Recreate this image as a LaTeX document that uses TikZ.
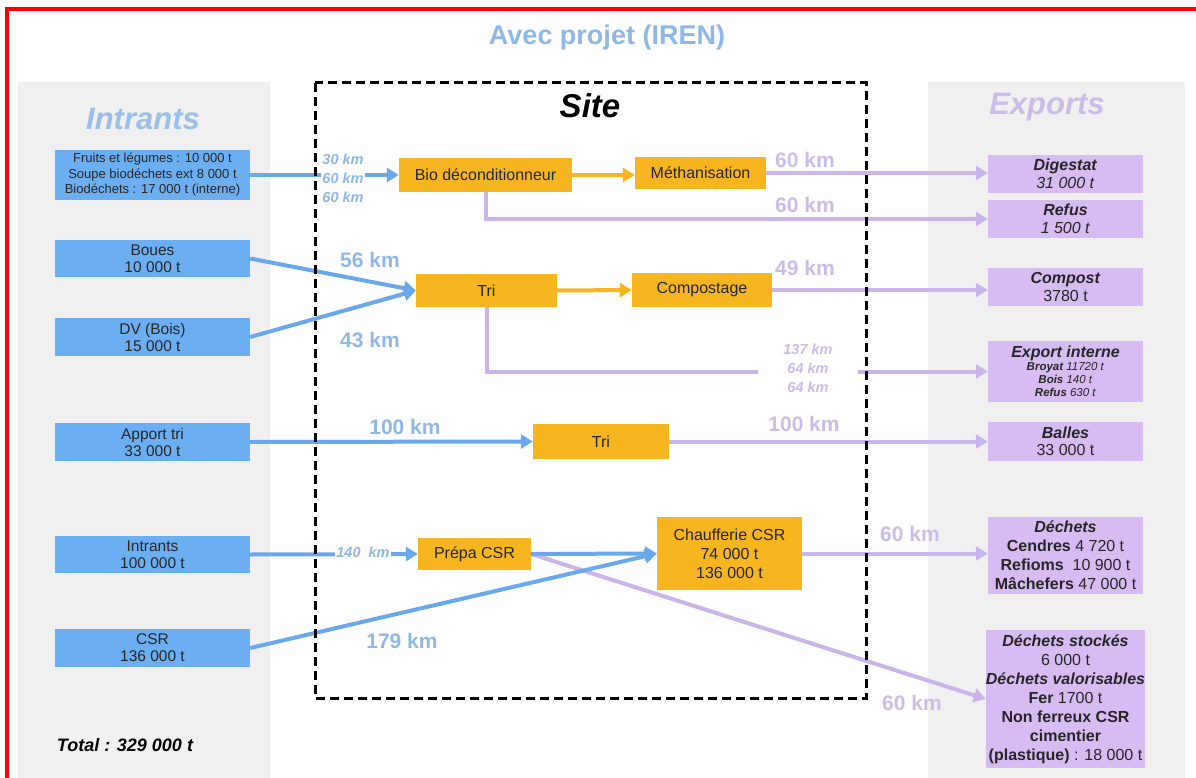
\documentclass[tikz,border=0pt]{standalone}
\usepackage{fontspec}
\setmainfont{Liberation Sans}
\usetikzlibrary{arrows.meta}
\definecolor{inblue}{HTML}{6CAEF2}
\definecolor{arblue}{HTML}{6AA8EC}
\definecolor{txblue}{HTML}{8FB8E6}
\definecolor{siteyel}{HTML}{F7B51F}
\definecolor{outpur}{HTML}{D6BCF2}
\definecolor{arpur}{HTML}{C9B5EA}
\definecolor{txpur}{HTML}{CCBDE8}
\definecolor{panel}{HTML}{F0F0F0}

\begin{document}
\begin{tikzpicture}[x=1pt, y=-1pt,
  inbox/.style={fill=inblue, minimum width=195pt, inner sep=0pt, align=center, text=black!85, font=\fontsize{15.5}{17}\selectfont},
  unit/.style={fill=siteyel, inner sep=0pt, align=center, text=black!85, font=\fontsize{16}{19}\selectfont},
  outbox/.style={fill=outpur, minimum width=155pt, inner sep=0pt, align=center, text=black!85, font=\fontsize{16}{17.5}\selectfont},
  bl/.style={draw=arblue, line width=4pt, -{Triangle[length=12pt,width=14pt]}},
  ye/.style={draw=siteyel, line width=4pt, -{Triangle[length=12pt,width=14pt]}},
  pu/.style={draw=arpur, line width=4pt, -{Triangle[length=12pt,width=14pt]}},
  kmb/.style={text=txblue, font=\bfseries\fontsize{21}{23}\selectfont},
  kmp/.style={text=txpur, font=\bfseries\fontsize{21}{23}\selectfont},
  kms/.style={fill=white, inner sep=1pt, align=center, font=\bfseries\itshape\fontsize{14.5}{19}\selectfont}]
  \useasboundingbox (0,0) rectangle (1196,778);
  \fill[white] (0,0) rectangle (1196,778);
  % panels
  \fill[panel] (18,82) rectangle (270,778);
  \fill[panel] (928,82) rectangle (1185,778);
  \draw[red, line width=4pt] (7,778) -- (7,9) -- (1196,9);

  \node[text=txblue, font=\bfseries\fontsize{27}{29}\selectfont] (titre) at (607,38) {Avec projet (IREN)};
  \node[text=txblue!90!white, font=\bfseries\itshape\fontsize{31}{33}\selectfont] (tin) at (143,119) {Intrants};
  \node[text=txpur, font=\bfseries\itshape\fontsize{31}{33}\selectfont] (tout) at (1047,107) {Exports};
  \node[font=\bfseries\itshape\fontsize{33}{35}\selectfont] (tsite) at (590,106) {Site};
  \node[font=\bfseries\itshape\fontsize{18}{20}\selectfont] (total) at (125,745) {Total : 329 000 t};

  % intrants
  \node[inbox, minimum height=50pt, font=\fontsize{13}{15.5}\selectfont] (bio-in) at (152.5,175)
    {Fruits et légumes : 10 000 t\\Soupe biodéchets ext 8 000 t\\Biodéchets : 17 000 t (interne)};
  \node[inbox, minimum height=37pt] (boues) at (152.5,258.5) {Boues\\10 000 t};
  \node[inbox, minimum height=38pt] (dv) at (152.5,337) {DV (Bois)\\15 000 t};
  \node[inbox, minimum height=38pt] (apport) at (152.5,442) {Apport tri\\33 000 t};
  \node[inbox, minimum height=37pt] (intr) at (152.5,554.5) {Intrants\\100 000 t};
  \node[inbox, minimum height=38pt] (csr) at (152.5,648) {CSR\\136 000 t};

  % site
  \node[unit, minimum width=173pt, minimum height=34pt] (bio) at (485.5,175) {Bio déconditionneur};
  \node[unit, minimum width=131pt, minimum height=32pt] (metha) at (700.5,173) {Méthanisation};
  \node[unit, minimum width=141pt, minimum height=33pt] (tri1) at (486.5,290.5) {Tri};
  \node[unit, minimum width=140pt, minimum height=34pt] (compo) at (702,290) {Compostage};
  \node[unit, minimum width=136pt, minimum height=35pt] (tri2) at (601,441.5) {Tri};
  \node[unit, minimum width=113pt, minimum height=32pt] (prepa) at (474.5,554) {Prépa CSR};
  \node[unit, minimum width=145pt, minimum height=73pt] (chauf) at (729.5,553.5) {Chaufferie CSR\\74 000 t\\136 000 t};

  % exports
  \node[outbox, minimum height=38pt] (digestat) at (1065.5,174) {\textbf{\textit{Digestat}}\\\textit{31 000 t}};
  \node[outbox, minimum height=38pt] (refus) at (1065.5,219) {\textbf{\textit{Refus}}\\\textit{1 500 t}};
  \node[outbox, minimum height=38pt] (compost) at (1065.5,287) {\textbf{\textit{Compost}}\\3780 t};
  \node[outbox, minimum height=61pt, font=\fontsize{11.5}{13}\selectfont] (export) at (1065.5,371.5)
    {{\fontsize{16}{17}\selectfont\textbf{\textit{Export interne}}}\\\textit{\textbf{Broyat} 11720 t}\\\textit{\textbf{Bois} 140 t}\\\textit{\textbf{Refus} 630 t}};
  \node[outbox, minimum height=39pt] (balles) at (1065.5,441.5) {\textbf{\textit{Balles}}\\33 000 t};
  \node[outbox, minimum height=77pt, font=\fontsize{16}{19}\selectfont] (dechets) at (1065.5,555.5)
    {\textbf{\textit{Déchets}}\\\textbf{Cendres} 4 720 t\\\textbf{Refioms}\ \ 10 900 t\\\textbf{Mâchefers} 47 000 t};
  \node[outbox, minimum height=138pt, font=\fontsize{16}{19}\selectfont] (stock) at (1065.5,699)
    {\textbf{\textit{Déchets stockés}}\\6 000 t\\\textbf{\textit{Déchets valorisables}}\\\textbf{Fer} 1700 t\\\textbf{Non ferreux CSR}\\\textbf{cimentier}\\\textbf{(plastique)} : 18 000 t};

  % flux
  \draw[bl] (bio-in.east) -- (bio.west);
  \draw[bl] (boues.east) -- (tri1.west);
  \draw[bl] (dv.east) -- (tri1.west);
  \draw[bl] (apport.east) -- (tri2.west);
  \draw[bl] (intr.east) -- (prepa.west);
  \draw[pu] (prepa.east) -- (stock.west);
  \draw[bl] (prepa.east) -- (chauf.west);
  \draw[bl] (csr.east) -- (chauf.west);

  \draw[ye] (bio.east) -- (bio.east -| metha.west);
  \draw[ye] (tri1.east) -- (compo.west);

  \draw[pu] (metha.east) -- (metha.east -| digestat.west);
  \draw[pu] (bio.south) |- (refus.west);
  \draw[pu] (compo.east) -- (compo.east -| compost.west);
  \draw[pu] (tri1.south) |- (export.west);
  \draw[pu] (tri2.east) -- (balles.west);
  \draw[pu] (chauf.east) -- (chauf.east -| dechets.west);

  \draw[black, line width=3pt, dash pattern=on 9pt off 5pt] (315,83) rectangle (866,698);

  % distances
  \node[kms, text=txblue] (km-bio) at (343,178) {30 km\\60 km\\60 km};
  \node[kmb] (km-boues) at (370,260) {56 km};
  \node[kmb] (km-dv) at (370,340) {43 km};
  \node[kmb] (km-apport) at (405,427) {100 km};
  \node[kms, text=txblue] (km-intr) at (363,552) {140\ \ km};
  \node[kmb] (km-csr) at (402,641) {179 km};
  \node[kmp] (km-dig) at (805,160) {60 km};
  \node[kmp] (km-ref) at (805,205) {60 km};
  \node[kmp] (km-comp) at (805,268) {49 km};
  \node[kms, text=txpur, minimum width=100pt] (km-exp) at (808,368) {137 km\\64 km\\64 km};
  \node[kmp] (km-bal) at (804,424) {100 km};
  \node[kmp] (km-dech) at (910,534) {60 km};
  \node[kmp] (km-stock) at (912,703) {60 km};
\end{tikzpicture}
\end{document}
